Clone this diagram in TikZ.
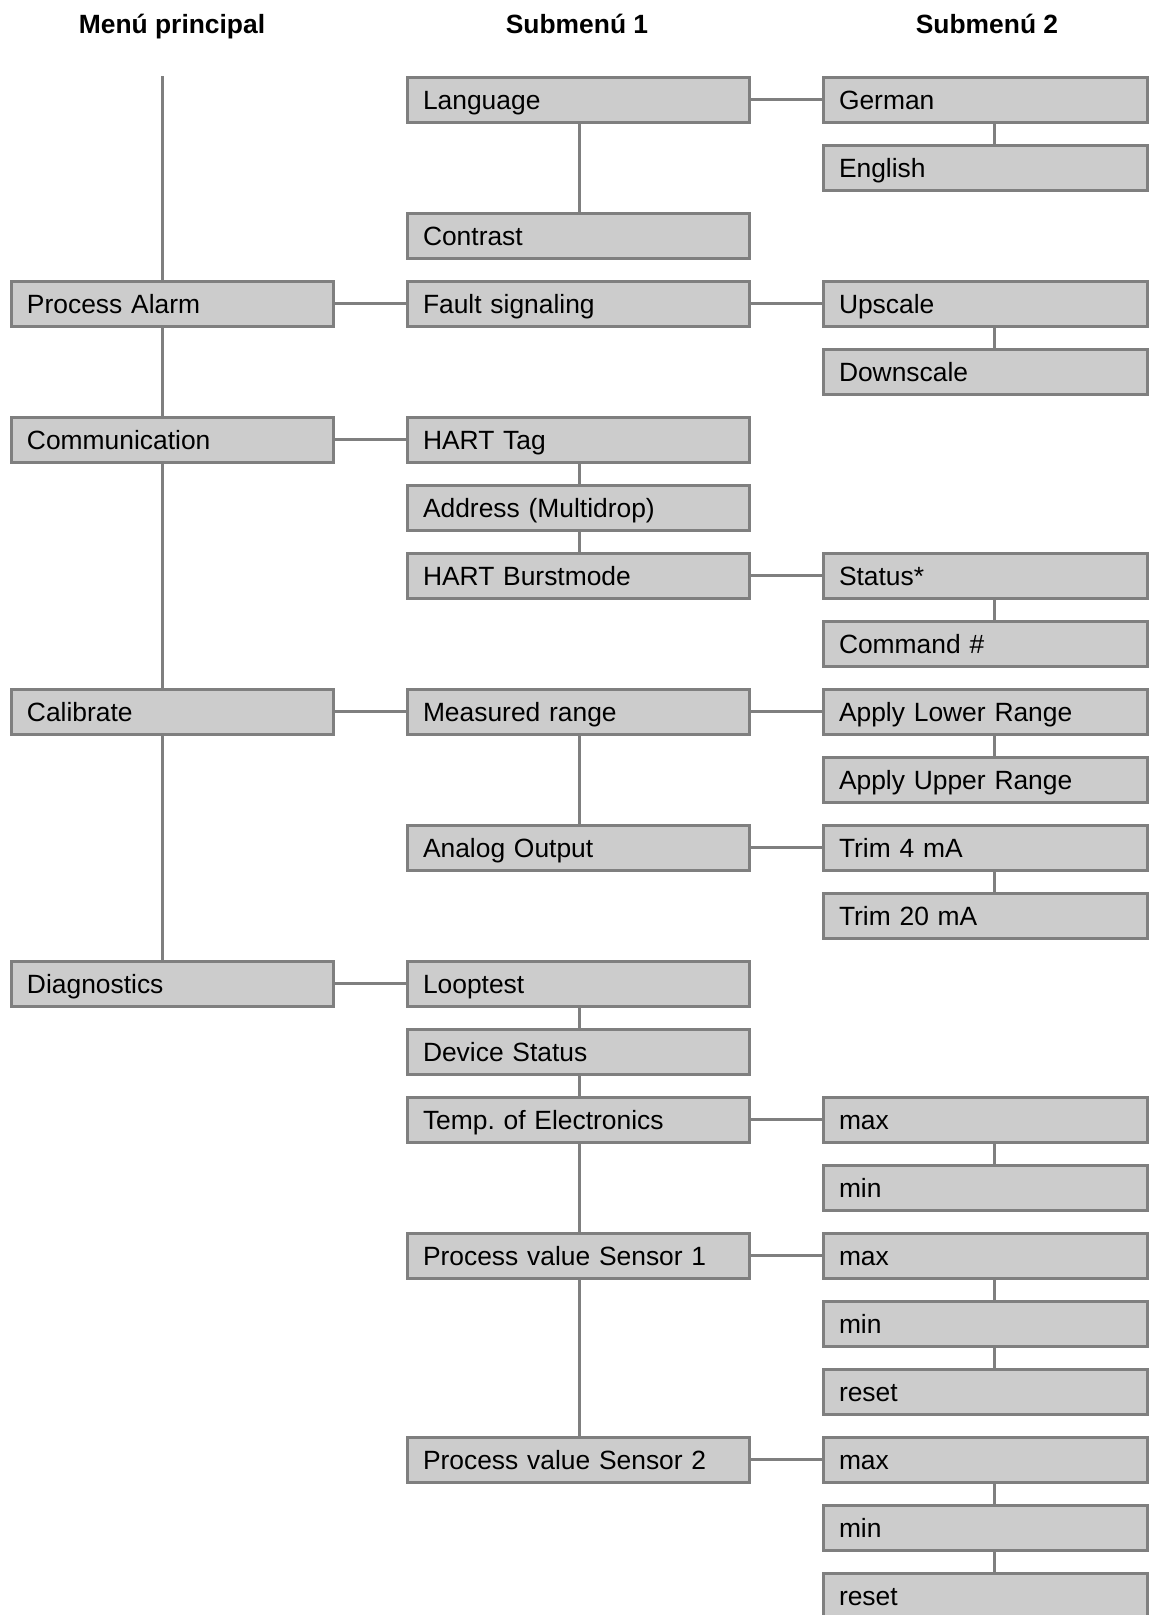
\documentclass[tikz,border=0pt]{standalone}
\usepackage{fontspec}
\setmainfont{Liberation Sans}
\definecolor{boxgray}{HTML}{CCCCCC}
\definecolor{edgegray}{HTML}{7F7F7F}
\begin{document}
\frenchspacing
\begin{tikzpicture}[x=1pt,y=-1pt,
  every node/.style={font=\fontsize{26.4pt}{30pt}\selectfont},
  box/.style={draw=edgegray, fill=boxgray, line width=3pt, minimum height=45pt,
    inner xsep=16pt, inner ysep=0pt, text height=19pt, text depth=0pt, align=left},
  boxa/.style={box, text width=290pt},
  boxb/.style={box, text width=310pt},
  boxc/.style={box, text width=292pt},
  head/.style={font=\fontsize{26.4pt}{30pt}\selectfont\bfseries, anchor=base},
  conn/.style={draw=edgegray, line width=3pt}]
\useasboundingbox (0,0) rectangle (1159,1615);
% headers
\node[head] (h0) at (172,33) {Menú principal};
\node[head] (h1) at (577,33) {Submenú 1};
\node[head] (h2) at (987,33) {Submenú 2};
% column 0
\node[boxa] (pa)   at (172,303.5) {Process Alarm};
\node[boxa] (comm) at (172,439.5) {Communication};
\node[boxa] (cal)  at (172,711.5) {Calibrate};
\node[boxa] (diag) at (172,983.5) {Diagnostics};
% column 1
\node[boxb] (lang)     at (578,99.5)  {Language};
\node[boxb] (contrast) at (578,235.5) {Contrast};
\node[boxb] (fault)    at (578,303.5) {Fault signaling};
\node[boxb] (hart)     at (578,439.5) {HART Tag};
\node[boxb] (addr)     at (578,507.5) {Address (Multidrop)};
\node[boxb] (burst)    at (578,575.5) {HART Burstmode};
\node[boxb] (meas)     at (578,711.5) {Measured range};
\node[boxb] (aout)     at (578,847.5) {Analog Output};
\node[boxb] (loop)     at (578,983.5) {Looptest};
\node[boxb] (dstat)    at (578,1051.5) {Device Status};
\node[boxb] (temp)     at (578,1119.5) {Temp. of Electronics};
\node[boxb] (pvone)    at (578,1255.5) {Process value Sensor 1};
\node[boxb] (pvtwo)    at (578,1459.5) {Process value Sensor 2};
% column 2
\node[boxc] (german)  at (985,99.5)  {German};
\node[boxc] (english) at (985,167.5) {English};
\node[boxc] (up)      at (985,303.5) {Upscale};
\node[boxc] (down)    at (985,371.5) {Downscale};
\node[boxc] (status)  at (985,575.5) {Status*};
\node[boxc] (cmd)     at (985,643.5) {Command \#};
\node[boxc] (alr)     at (985,711.5) {Apply Lower Range};
\node[boxc] (aur)     at (985,779.5) {Apply Upper Range};
\node[boxc] (tfour)   at (985,847.5) {Trim 4 mA};
\node[boxc] (ttwenty) at (985,915.5) {Trim 20 mA};
\node[boxc] (tmax)    at (985,1119.5) {max};
\node[boxc] (tmin)    at (985,1187.5) {min};
\node[boxc] (pamax)   at (985,1255.5) {max};
\node[boxc] (pamin)   at (985,1323.5) {min};
\node[boxc] (pareset) at (985,1391.5) {reset};
\node[boxc] (pbmax)   at (985,1459.5) {max};
\node[boxc] (pbmin)   at (985,1527.5) {min};
\node[boxc] (pbreset) at (985,1595.5) {reset};
% main vertical line
\coordinate (top) at (162,76);
\draw[conn] (top) -- (top |- pa.north);
\draw[conn] ([xshift=-10pt]pa.south) -- ([xshift=-10pt]comm.north);
\draw[conn] ([xshift=-10pt]comm.south) -- ([xshift=-10pt]cal.north);
\draw[conn] ([xshift=-10pt]cal.south) -- ([xshift=-10pt]diag.north);
% column 1 verticals
\foreach \a/\b in {lang/contrast, hart/addr, addr/burst, meas/aout, loop/dstat, dstat/temp, temp/pvone, pvone/pvtwo}
  \draw[conn] ([xshift=1pt]\a.south) -- ([xshift=1pt]\b.north);
% column 2 verticals
\foreach \a/\b in {german/english, up/down, status/cmd, alr/aur, tfour/ttwenty, tmax/tmin, pamax/pamin, pamin/pareset, pbmax/pbmin, pbmin/pbreset}
  \draw[conn] ([xshift=9pt]\a.south) -- ([xshift=9pt]\b.north);
% horizontals
\foreach \a/\b in {pa/fault, comm/hart, cal/meas, diag/loop, lang/german, fault/up, burst/status, meas/alr, aout/tfour, temp/tmax, pvone/pamax, pvtwo/pbmax}
  \draw[conn] (\a.east) -- (\b.west);
\end{tikzpicture}
\end{document}
